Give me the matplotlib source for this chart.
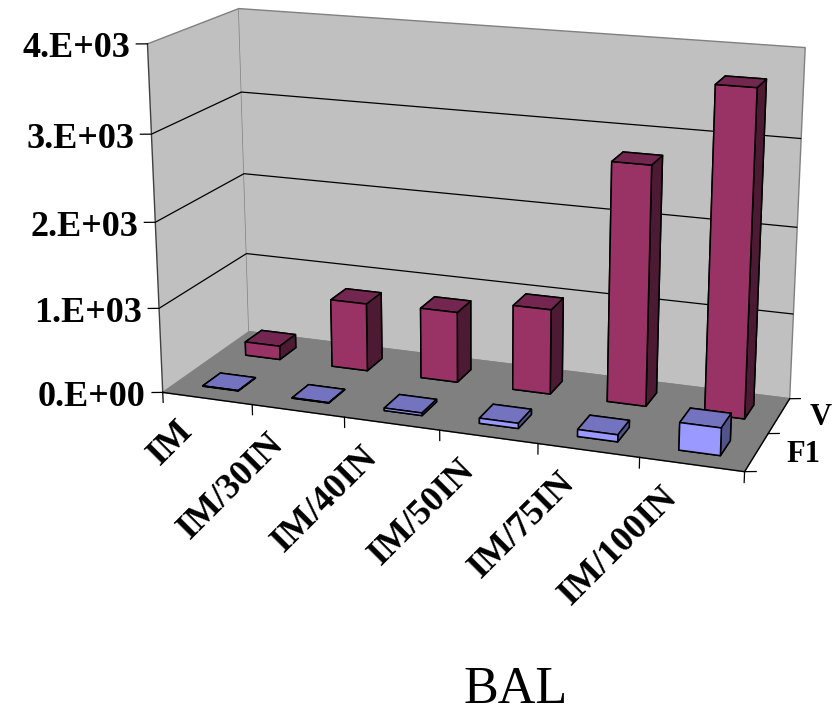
import numpy as np
import matplotlib
matplotlib.use("Agg")
import matplotlib.pyplot as plt
from mpl_toolkits.mplot3d import proj3d

categories = ["IM", "IM/30IN", "IM/40IN", "IM/50IN", "IM/75IN", "IM/100IN"]
series_names = ["F1", "V"]
f1_values = [5, 5, 30, 60, 80, 310]
v_values = [165, 815, 840, 1000, 2765, 3700]
z_ticks = [0, 1000, 2000, 3000, 4000]
z_labels = ["0.E+00", "1.E+03", "2.E+03", "3.E+03", "4.E+03"]

plt.rcParams["font.family"] = ["Liberation Serif", "DejaVu Serif"]

fig = plt.figure(figsize=(8.38, 7.12), dpi=100)
ax = fig.add_axes([0.1389 - 9.5 / 838, 0.1814 - 10 / 712, 0.8553, 1.0066], projection="3d", computed_zorder=False)
ax.set_xlim(0, 6, view_margin=0)
ax.set_ylim(0, 2, view_margin=0)
ax.set_zlim(0, 4000, view_margin=0)
ax.view_init(elev=16.235, azim=-70.013)
ax.set_proj_type("persp", focal_length=0.5483)
ax.set_box_aspect((1, 0.3321, 0.5975))

ax.patch.set_visible(False)
ax.set_xticks([])
ax.set_yticks([])
ax.set_zticks(z_ticks[1:-1])
ax.set_zticklabels([])
ax.xaxis.set_pane_color("#C0C0C0")
ax.yaxis.set_pane_color("#C0C0C0")
ax.zaxis.set_pane_color("#808080")
for axis in (ax.xaxis, ax.yaxis, ax.zaxis):
    axis.pane.set_edgecolor("#808080")
    axis.line.set_color((0, 0, 0, 0))
    axis._axinfo["tick"]["inward_factor"] = 0
    axis._axinfo["tick"]["outward_factor"] = 0
    axis._axinfo["grid"]["color"] = "black"
    axis._axinfo["grid"]["linewidth"] = 0.9


def bars(values, y_center, front, top, side, order):
    w = 0.4
    x = np.arange(len(values)) + 0.5 - w / 2
    y = np.full(len(values), y_center - w / 2)
    colors = [top, top, front, front, side, side] * len(values)
    ax.bar3d(x, y, np.zeros(len(values)), w, w, values, color=colors, shade=False,
             edgecolor="black", linewidth=1.1, zorder=order)


def label(x, y, z, s, dx, dy, **kw):
    # place a text in pixels away from a projected 3d point
    X, Y, _ = proj3d.proj_transform(x, y, z, ax.get_proj())
    ax.annotate(s, xy=(X, Y), xycoords="data", xytext=(dx, dy), textcoords="offset pixels",
                fontweight="bold", annotation_clip=False, **kw)


# floor and wall edges
ax.plot([0, 0], [0, 0], [0, 4000], color="#404040", lw=1.0, zorder=1)
ax.plot([0, 6], [0, 0], [0, 0], color="black", lw=1.0, zorder=1)
ax.plot([6, 6], [0, 2], [0, 0], color="black", lw=1.0, zorder=1)

bars(v_values, 1.5, "#993366", "#732650", "#4D1A33", 2)
bars(f1_values, 0.5, "#9999FF", "#7373BF", "#53538C", 3)

# ticks
for z in z_ticks:
    ax.plot([0, -0.1], [0, -0.04], [z, z], color="black", lw=0.9, zorder=1)
for i in range(len(categories) + 1):
    ax.plot([i, i], [0, 0], [0, -120], color="black", lw=0.9, zorder=1)
for i in range(len(series_names) + 1):
    ax.plot([6, 6.1], [i, i + 0.04], [0, 0], color="black", lw=0.9, zorder=1)

# labels
for z, s in zip(z_ticks, z_labels):
    label(0, 0, z, s, -17, -5, ha="right", va="center", fontsize=26)
for i, s in enumerate(categories):
    label(i + 0.5, 0, 0, s, -19, -28, ha="right", va="center", rotation=45, rotation_mode="anchor", fontsize=26)
for i, s in enumerate(series_names):
    label(6, i + 0.5, 0, s, 30, -2, ha="left", va="center", fontsize=22)

fig.text(516 / 838, 1 - 690 / 712, "BAL", ha="center", va="center", fontsize=37.5)

plt.savefig("out.png", dpi=100)
